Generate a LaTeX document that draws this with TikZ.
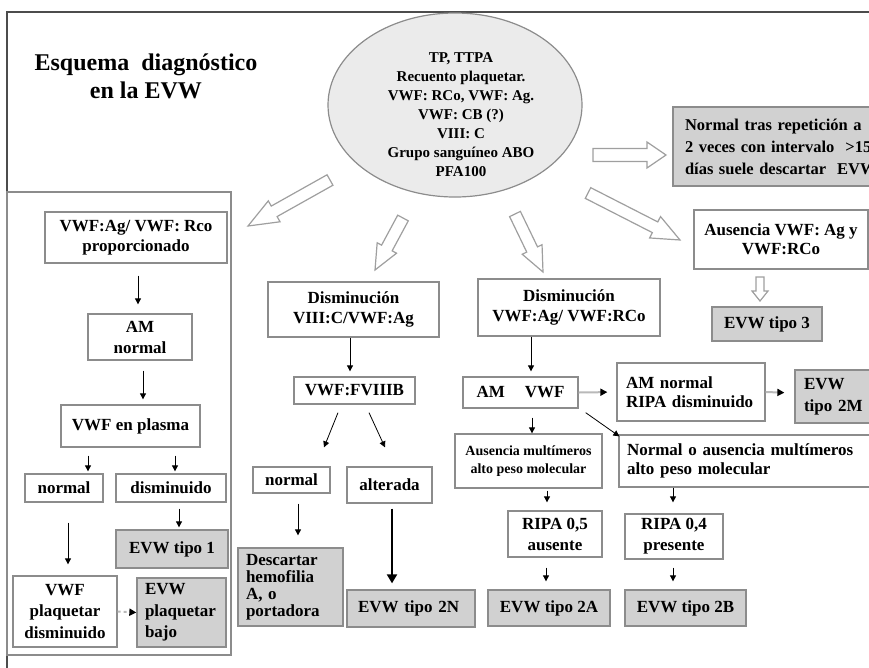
\documentclass[tikz,border=0pt]{standalone}
\usepackage{fontspec}
\setmainfont{Liberation Serif}
\usetikzlibrary{shapes.geometric, arrows.meta, calc}
\definecolor{framegray}{gray}{0.3}
\definecolor{boxgray}{gray}{0.55}
\definecolor{fillgray}{gray}{0.82}
\definecolor{ellfill}{gray}{0.92}
\tikzset{every node/.style={align=center}}
\tikzset{box/.style={draw=boxgray, line width=1.3pt, fill=white, inner sep=2pt, font=\bfseries\fontsize{17}{20}\selectfont}}
\tikzset{gbox/.style={box, fill=fillgray}}
\tikzset{lbox/.style={align=left}}
\tikzset{conn/.style={line width=0.8pt, -{Triangle[width=6pt,length=6pt]}}}
\tikzset{connthick/.style={line width=2pt, -{Triangle[width=10pt,length=9pt]}}}
\tikzset{conngray/.style={line width=2pt, draw=gray!55, -{Triangle[width=7pt,length=7pt,color=black]}}}
\tikzset{barrow/.style={draw=gray!75, line width=1.2pt, fill=white, line join=miter}}
\newcommand{\blockarrow}[5]{%
  \path let \p1=($#2-#1$) in \pgfextra{\pgfmathparse{atan2(\y1,\x1)}\xdef\baang{\pgfmathresult}\pgfmathparse{veclen(\x1,\y1)}\xdef\balen{\pgfmathresult}};
  \draw[barrow, shift={#1}, rotate=\baang] (0,-#3) -- ({\balen-#5},-#3) -- ({\balen-#5},-#4) -- (\balen,0) -- ({\balen-#5},#4) -- ({\balen-#5},#3) -- (0,#3) -- cycle;}

\begin{document}
\begin{tikzpicture}[x=1pt, y=-1pt]
	\useasboundingbox (0,0) rectangle (869,667);
	\clip (0,0) rectangle (869,667);
	
	% Frame
	\draw[framegray, line width=1.4pt] (7,680) -- (7,12) -- (880,12);
	\draw[boxgray, line width=1.2pt] (7,192) rectangle (231,655);
	
	% Title
	\node[font=\bfseries\fontsize{24}{28}\selectfont] (title) at (146,76) {Esquema\ \ diagnóstico\\en la EVW};
	
	% Tests
	\node[ellipse, draw=boxgray, line width=1.2pt, fill=ellfill, minimum width=254, minimum height=184] (tests) at (455,105) {};
	\node[font=\bfseries\fontsize{15}{19}\selectfont] (testlist) at (461,114.5) {TP, TTPA\\Recuento plaquetar.\\VWF: RCo, VWF: Ag.\\VWF: CB (?)\\VIII: C\\Grupo sanguíneo ABO\\PFA100};
	
	% Coordinates
	\coordinate (ta1) at (330,180);
	\coordinate (tp1) at (248,226);
	\coordinate (ta2) at (403,218);
	\coordinate (tp2) at (375,270);
	\coordinate (ta3) at (515,214);
	\coordinate (tp3) at (543,272);
	\coordinate (ta4) at (593,155);
	\coordinate (tp4) at (666,155);
	\coordinate (ta5) at (588,193);
	\coordinate (tp5) at (680,240);
	\coordinate (ta6) at (760,277);
	\coordinate (tp6) at (760,301);
	
	% Block arrows
	\blockarrow{(ta1)}{(tp1)}{6}{12}{30}
	\blockarrow{(ta2)}{(tp2)}{6}{11}{25}
	\blockarrow{(ta3)}{(tp3)}{6}{11}{25}
	\blockarrow{(ta4)}{(tp4)}{6.5}{13}{19}
	\blockarrow{(ta5)}{(tp5)}{6}{12}{28}
	\blockarrow{(ta6)}{(tp6)}{4}{8}{10}
	
	% Top right
	\node[gbox, lbox, font=\bfseries\fontsize{16.5}{22}\selectfont, inner xsep=12pt, text width=205, minimum height=79] (repet) at (787.5,146.5) {\makebox[205pt][s]{Normal tras repetición a}\\\makebox[205pt][s]{2 veces con intervalo \ >15}\\\makebox[205pt][s]{días suele descartar \ EVW}};
	\node[box, font=\bfseries\fontsize{17}{19}\selectfont, minimum width=174, minimum height=59] (ausag) at (781,239.5) {Ausencia VWF: Ag y\\VWF:RCo};
	\node[gbox, minimum width=110, minimum height=34] (tipo3) at (767,324) {EVW tipo 3};
	
	% Left panel
	\node[box, minimum width=182, minimum height=51] (prop) at (136,237.5) {VWF:Ag/ VWF: Rco\\proporcionado};
	\node[box, font=\bfseries\fontsize{17}{21}\selectfont, minimum width=104, minimum height=46] (amn) at (140,337) {AM\\normal};
	\node[box, minimum width=139, minimum height=42] (plasma) at (130.5,426) {VWF en plasma};
	\node[box, minimum width=78, minimum height=28] (nor1) at (64,488) {normal};
	\node[box, minimum width=110, minimum height=28] (dis) at (171,488) {disminuido};
	\node[gbox, minimum width=112, minimum height=38] (tipo1) at (172,549) {EVW tipo 1};
	\node[box, font=\bfseries\fontsize{17}{21.5}\selectfont, minimum width=104, minimum height=71] (plaqdis) at (65,611.5) {VWF\\plaquetar\\disminuido};
	\node[gbox, lbox, font=\bfseries\fontsize{17}{21.5}\selectfont, inner xsep=8pt, text width=73, minimum height=69] (plaqbajo) at (181.5,612.5) {EVW\\plaquetar\\bajo};
	
	% Middle column
	\node[box, minimum width=171, minimum height=55] (dvwf) at (353.5,309.5) {Disminución\\VIII:C/VWF:Ag};
	\node[box, minimum width=121, minimum height=27] (fviiib) at (354.5,390.5) {VWF:FVIIIB};
	\node[box, minimum width=77, minimum height=26] (nor2) at (291.5,480) {normal};
	\node[box, minimum width=85, minimum height=36] (alt) at (389.5,485) {alterada};
	\node[gbox, lbox, font=\bfseries\fontsize{17}{17}\selectfont, inner xsep=8pt, text width=89, minimum height=78] (desc) at (290.5,587) {Descartar\\hemofilia\\A, o\\portadora};
	\node[gbox, lbox, inner xsep=11pt, text width=106, minimum height=37] (t2N) at (411,608.5) {EVW tipo 2N};
	
	% Right column
	\node[box, minimum width=182, minimum height=57] (dvwfrco) at (569,307.5) {Disminución\\VWF:Ag/ VWF:RCo};
	\node[box, minimum width=115, minimum height=31] (amvwf) at (520.5,392.5) {AM\hspace{20pt}VWF};
	\node[box, lbox, font=\bfseries\fontsize{17}{19}\selectfont, inner xsep=9pt, text width=130, minimum height=58] (amripa) at (691,392) {AM normal\\RIPA disminuido};
	\node[gbox, lbox, font=\bfseries\fontsize{17}{22}\selectfont, inner xsep=9pt, text width=67, minimum height=53] (t2M) at (837.5,396.5) {EVW\\tipo 2M};
	\node[box, font=\bfseries\fontsize{14}{18}\selectfont, minimum width=147, minimum height=54] (ausmult) at (528.5,461) {Ausencia multímeros\\alto peso molecular};
	\node[box, lbox, font=\bfseries\fontsize{17}{19}\selectfont, inner xsep=8pt, text width=240, minimum height=52] (normaus) at (747,461) {Normal o ausencia multímeros\\alto peso molecular};
	\node[box, font=\bfseries\fontsize{17}{21}\selectfont, minimum width=94, minimum height=46] (ripa05) at (555,534) {RIPA 0,5\\ausente};
	\node[box, font=\bfseries\fontsize{17}{21}\selectfont, minimum width=98, minimum height=45] (ripa04) at (674,536.5) {RIPA 0,4\\presente};
	\node[gbox, minimum width=122, minimum height=36] (t2A) at (549,608) {EVW tipo 2A};
	\node[gbox, minimum width=121, minimum height=36] (t2B) at (685.5,608) {EVW tipo 2B};
	
	% Connectors
	%% Left panel
	\draw[conn, shorten <=12pt, shorten >=9pt] ([xshift=2pt]prop.south) -- ([xshift=-2pt]amn.north);
	\draw[conn, shorten <=10pt, shorten >=5pt] ([xshift=3pt]amn.south) -- ([xshift=12.5pt]plasma.north);
	\draw[conn, shorten <=8pt, shorten >=2pt] ([xshift=-42.5pt]plasma.south) -- ([xshift=24pt]nor1.north);
	\draw[conn, shorten <=8pt, shorten >=2pt] ([xshift=44.5pt]plasma.south) -- ([xshift=4pt]dis.north);
	\draw[conn, shorten <=6pt, shorten >=2pt] ([xshift=8pt]dis.south) -- ([xshift=7pt]tipo1.north);
	\draw[conn, shorten <=20pt, shorten >=11pt] ([xshift=4pt]nor1.south) -- ([xshift=3pt]plaqdis.north);
	\draw[conngray, dashed] (plaqdis.east) -- (plaqbajo.west);
	%% Middle column
	\draw[conn, shorten >=5pt] ([xshift=-3.5pt]dvwf.south) -- ([xshift=-4.5pt]fviiib.north);
	\draw[conn] ([xshift=-16.5pt, yshift=-8pt]fviiib.south) -- ([xshift=32.5pt, yshift=19pt]nor2.north);
	\draw[conn] ([xshift=14.5pt, yshift=-8pt]fviiib.south) -- ([xshift=-4.5pt, yshift=19pt]alt.north);
	\draw[conn, shorten <=10pt, shorten >=12pt] ([xshift=6.5pt]nor2.south) -- ([xshift=7.5pt]desc.north);
	\draw[connthick, shorten <=5pt, shorten >=6pt] ([xshift=2.5pt]alt.south) -- ([xshift=-19pt]t2N.north);
	%% Right column
	\draw[conn, shorten >=5pt] ([xshift=-38pt]dvwfrco.south) -- ([xshift=10.5pt]amvwf.north);
	\draw[conngray, shorten >=9pt] (amvwf.east) -- (amripa.west);
	\draw[conngray, shorten >=10pt] (amripa.east) -- ([yshift=3.5pt]t2M.west);
	\draw[conn] ([xshift=7pt, yshift=-4pt]amvwf.south east) -- ([xshift=1pt, yshift=-2pt]normaus.north west);
	\draw[conn, shorten <=9pt] ([xshift=11.5pt]amvwf.south) -- ([xshift=3.5pt]ausmult.north);
	\draw[conn, shorten <=2pt, shorten >=8pt] ([xshift=18.5pt]ausmult.south) -- ([xshift=-8pt]ripa05.north);
	\draw[conn, shorten <=10pt, shorten >=8pt] ([xshift=-9pt]ripa05.south) -- ([xshift=-3pt]t2A.north);
	\draw[conn, shorten >=11pt] ([xshift=-74pt]normaus.south) -- ([xshift=-1pt]ripa04.north);
	\draw[conn, shorten <=8pt, shorten >=8pt] ([xshift=-1pt]ripa04.south) -- ([xshift=-12.5pt]t2B.north);
\end{tikzpicture}
\end{document}
